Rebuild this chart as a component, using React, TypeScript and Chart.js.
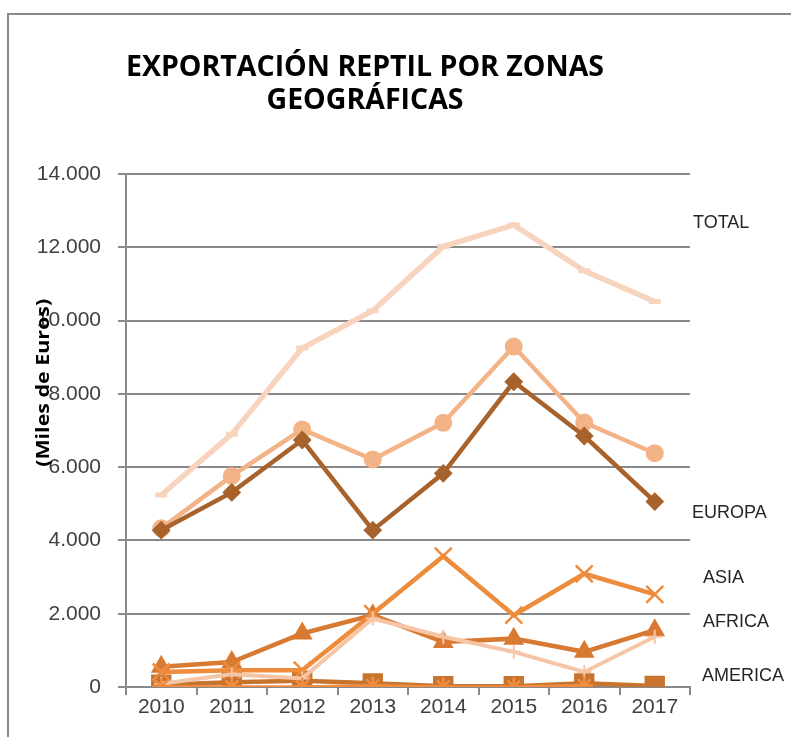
import React, { useEffect, useRef } from "react";
import { Chart, registerables } from "chart.js";

Chart.register(...registerables);

const years = ["2010", "2011", "2012", "2013", "2014", "2015", "2016", "2017"];

const total = [5240, 6900, 9250, 10270, 12020, 12610, 11360, 10520];
const europaTotal = [4330, 5760, 7030, 6210, 7210, 9290, 7220, 6380];
const europa = [4280, 5310, 6740, 4280, 5830, 8330, 6850, 5060];
const asia = [410, 460, 460, 2000, 3570, 1960, 3090, 2530];
const africa = [550, 680, 1460, 1960, 1230, 1320, 960, 1550];
const otros = [90, 350, 230, 1870, 1370, 960, 410, 1370];
const america = [60, 130, 170, 100, 20, 20, 100, 30];
const oceania = [10, 10, 10, 40, 10, 10, 40, null];

const yTicksMax = 14000;
const yTicksStep = 2000;

const sideLabels = ["TOTAL", "EUROPA", "ASIA", "AFRICA", "AMERICA"];
const sideLabelValues = [12660, 4750, 2980, 1770, 300];
const sideLabelOffsets = [3, 2, 13, 13, 12];

const titleLines = ["EXPORTACIÓN REPTIL POR ZONAS", "GEOGRÁFICAS"];
const yTitle = "(Miles de Euros)";
const yTitleCenterValue = 8300;

const fmt = (n: number) => String(n).replace(/\B(?=(\d{3})+(?!\d))/g, ".");

const decorPlugin = {
  id: "decor",
  beforeDraw(chart: any) {
    const ctx = chart.ctx;
    ctx.save();
    ctx.fillStyle = "#ffffff";
    ctx.fillRect(0, 0, chart.width, chart.height);
    ctx.strokeStyle = "#898989";
    ctx.lineWidth = 2;
    ctx.beginPath();
    ctx.moveTo(8, chart.height);
    ctx.lineTo(8, 14);
    ctx.lineTo(chart.width, 14);
    ctx.stroke();
    ctx.restore();
  },
  afterDraw(chart: any) {
    const ctx = chart.ctx;
    const area = chart.chartArea;
    const y = chart.scales.y;
    ctx.save();
    // Title
    ctx.fillStyle = "#000000";
    ctx.font = "bold 28px 'Open Sans', 'Liberation Sans', Arial, sans-serif";
    ctx.textAlign = "center";
    ctx.textBaseline = "alphabetic";
    const w1 = ctx.measureText(titleLines[0]).width;
    const sx = 478 / w1;
    const cx = 365;
    const baselines = [76, 109];
    titleLines.forEach((t, i) => {
      ctx.save();
      ctx.translate(cx, baselines[i]);
      ctx.scale(sx, 1);
      ctx.fillText(t, 0, 0);
      ctx.restore();
    });
    // Y title
    ctx.font = "bold 18px 'Open Sans', 'Liberation Sans', Arial, sans-serif";
    const wy = ctx.measureText(yTitle).width;
    ctx.save();
    ctx.translate(44, y.getPixelForValue(yTitleCenterValue));
    ctx.rotate(-Math.PI / 2);
    ctx.scale(168 / wy, 1);
    ctx.textBaseline = "middle";
    ctx.fillText(yTitle, 0, 0);
    ctx.restore();
    // Side labels
    ctx.font = "18px 'Liberation Sans', Arial, sans-serif";
    ctx.fillStyle = "#262626";
    ctx.textAlign = "left";
    ctx.textBaseline = "middle";
    sideLabels.forEach((t, i) => {
      ctx.fillText(t, area.right + sideLabelOffsets[i], y.getPixelForValue(sideLabelValues[i]));
    });
    ctx.restore();
  },
};

export default function App() {
  const ref = useRef<HTMLCanvasElement | null>(null);
  useEffect(() => {
    if (!ref.current) return;
    const mk = (
      label: string,
      data: (number | null)[],
      color: string,
      style: string,
      radius: number,
      lineW: number,
      pbw: number
    ) => ({
      label,
      data,
      borderColor: color,
      backgroundColor: color,
      pointStyle: style,
      pointRadius: radius,
      pointBorderWidth: pbw,
      pointBackgroundColor: color,
      pointBorderColor: color,
      borderWidth: lineW,
      tension: 0,
      spanGaps: false,
    });
    const chart = new Chart(ref.current, {
      type: "line",
      data: {
        labels: years,
        datasets: [
          mk("OCEANÍA", oceania, "#F28C3F", "star", 9, 3, 2.5),
          mk("OTROS", otros, "#F6C5A6", "cross", 7, 4, 2),
          mk("ASIA", asia, "#EE8C3E", "crossRot", 12, 4.5, 2.5),
          mk("AFRICA", africa, "#D97A32", "triangle", 10, 4.5, 2),
          mk("AMERICA", america, "#C7742F", "rect", 13, 4.5, 2),
          mk("EUROPA", europa, "#A8622B", "rectRot", 8, 4.5, 2),
          mk("EUROPA (total)", europaTotal, "#F4B287", "circle", 8, 4.5, 2),
          mk("TOTAL", total, "#F8D4BF", "line", 6, 5.5, 5),
        ] as any,
      },
      options: {
        animation: false,
        responsive: false,
        maintainAspectRatio: false,
        layout: { padding: { top: 174, right: 101, bottom: 0, left: 0 } },
        plugins: {
          legend: { display: false },
          title: { display: false },
          tooltip: { enabled: false },
        },
        scales: {
          x: {
            type: "category",
            offset: true,
            afterFit: (s: any) => {
              s.height = 50;
            },
            grid: {
              offset: true,
              drawOnChartArea: false,
              drawTicks: true,
              tickLength: 8,
              color: "#898989",
              lineWidth: 2,
            },
            border: { display: true, color: "#898989", width: 2 },
            ticks: {
              color: "#404040",
              font: { family: "'Liberation Sans', Arial, sans-serif", size: 21 },
              padding: 0,
              maxRotation: 0,
            },
          },
          y: {
            min: 0,
            max: yTicksMax,
            afterFit: (s: any) => {
              s.width = 126;
            },
            grid: {
              drawOnChartArea: true,
              drawTicks: true,
              tickLength: 8,
              color: "#898989",
              lineWidth: 2,
            },
            border: { display: true, color: "#898989", width: 2 },
            ticks: {
              stepSize: yTicksStep,
              color: "#404040",
              font: { family: "'Liberation Sans', Arial, sans-serif", size: 21 },
              padding: 17,
              callback: (v: any) => fmt(Number(v)),
            },
          },
        },
      },
      plugins: [decorPlugin],
    } as any);
    return () => chart.destroy();
  }, []);
  return (
    <div style={{ position: "absolute", left: 0, top: 0, width: 791, height: 737 }}>
      <canvas ref={ref} width={791} height={737} style={{ display: "block" }} />
    </div>
  );
}
